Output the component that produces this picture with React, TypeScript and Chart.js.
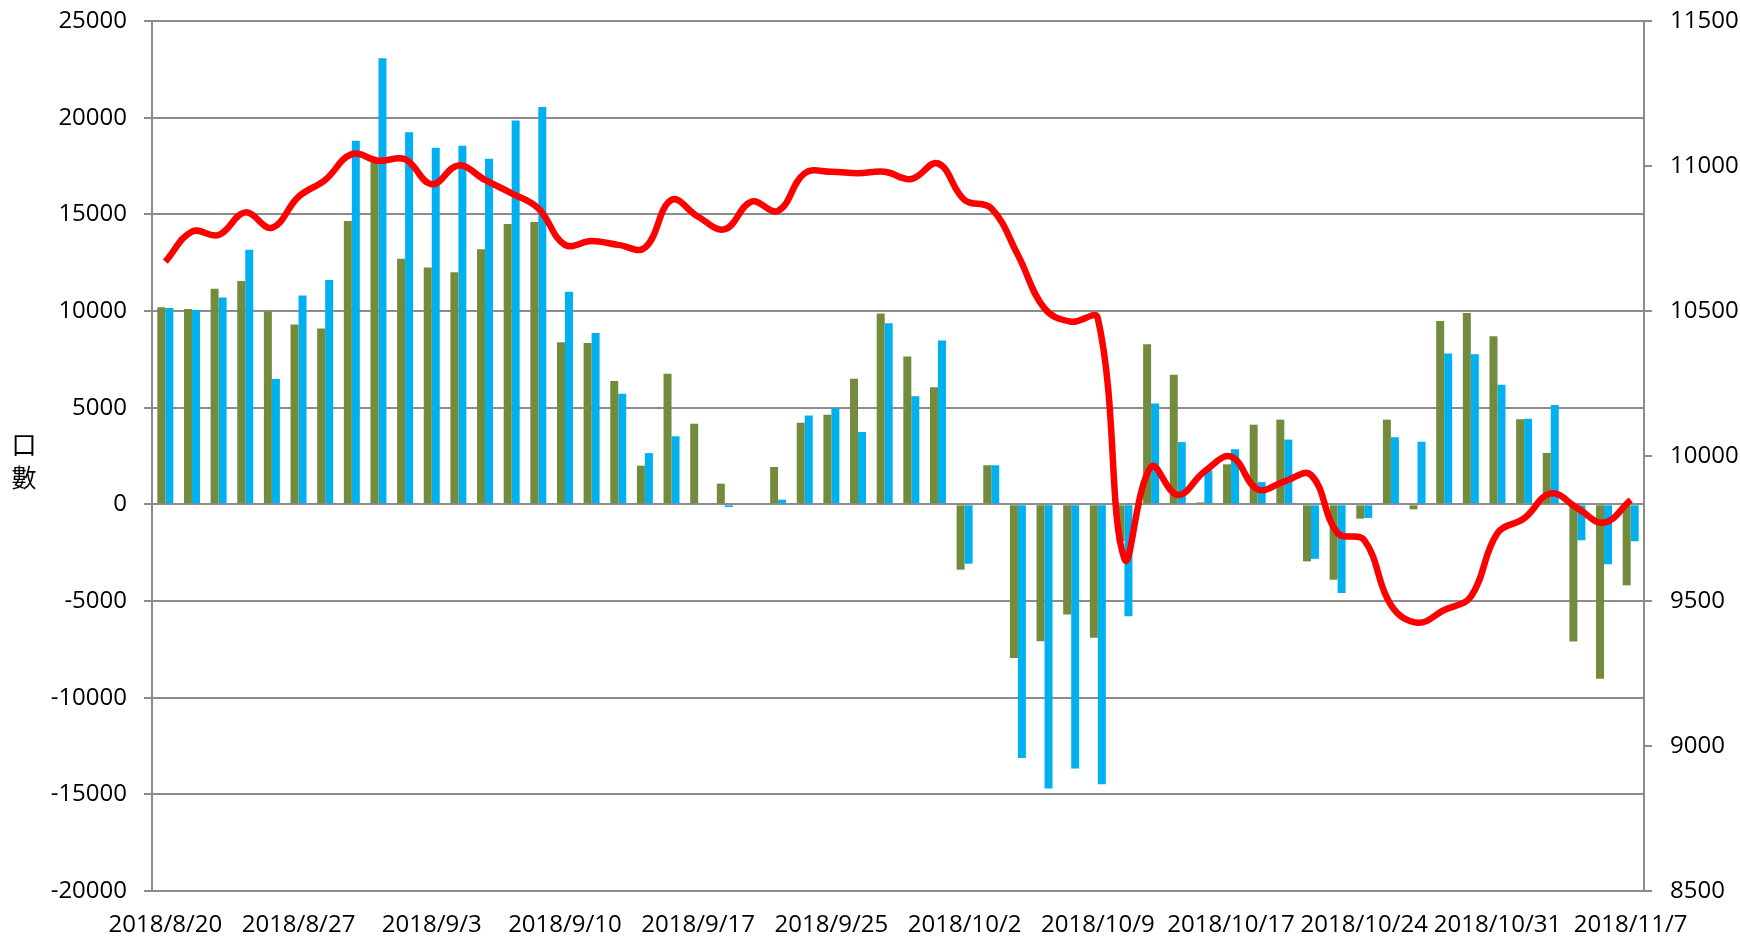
import React, { useEffect, useRef } from 'react';
import { Chart, registerables } from 'chart.js';

Chart.register(...registerables);

// Trading days (x categories)
const dates: string[] = [
  '2018/8/20', '2018/8/21', '2018/8/22', '2018/8/23', '2018/8/24',
  '2018/8/27', '2018/8/28', '2018/8/29', '2018/8/30', '2018/8/31',
  '2018/9/3', '2018/9/4', '2018/9/5', '2018/9/6', '2018/9/7',
  '2018/9/10', '2018/9/11', '2018/9/12', '2018/9/13', '2018/9/14',
  '2018/9/17', '2018/9/18', '2018/9/19', '2018/9/20', '2018/9/21',
  '2018/9/25', '2018/9/26', '2018/9/27', '2018/9/28', '2018/10/1',
  '2018/10/2', '2018/10/3', '2018/10/4', '2018/10/5', '2018/10/8',
  '2018/10/9', '2018/10/11', '2018/10/12', '2018/10/15', '2018/10/16',
  '2018/10/17', '2018/10/18', '2018/10/19', '2018/10/22', '2018/10/23',
  '2018/10/24', '2018/10/25', '2018/10/26', '2018/10/29', '2018/10/30',
  '2018/10/31', '2018/11/1', '2018/11/2', '2018/11/5', '2018/11/6',
  '2018/11/7',
];

// Green bars (口數, left axis)
const greenBars: number[] = [
  10200, 10100, 11150, 11550, 9970,
  9300, 9100, 14650, 17700, 12700,
  12250, 12000, 13200, 14500, 14600,
  8380, 8350, 6380, 2000, 6750,
  4170, 1070, 50, 1930, 4220,
  4640, 6500, 9870, 7650, 6050,
  -3380, 2020, -7950, -7080, -5700,
  -6900, -1900, 8280, 6700, 100,
  2070, 4120, 4380, -2950, -3900,
  -740, 4380, -260, 9480, 9900,
  8690, 4400, 2660, -7090, -9020,
  -4190,
];

// Blue bars (口數, left axis)
const blueBars: number[] = [
  10150, 10050, 10700, 13170, 6480,
  10800, 11600, 18800, 23070, 19250,
  18450, 18550, 17870, 19850, 20550,
  11000, 8860, 5720, 2650, 3520,
  0, -140, 0, 240, 4590,
  4970, 3740, 9360, 5590, 8480,
  -3070, 2020, -13120, -14700, -13670,
  -14480, -5790, 5210, 3220, 1750,
  2850, 1150, 3350, -2820, -4580,
  -700, 3470, 3240, 7800, 7760,
  6190, 4430, 5140, -1860, -3100,
  -1910,
];

// Red line (right axis)
const redLine: number[] = [
  10670, 10774, 10762, 10840, 10787,
  10894, 10952, 11041, 11018, 11023,
  10937, 11002, 10952, 10906, 10854,
  10728, 10741, 10728, 10718, 10883,
  10825, 10782, 10877, 10845, 10975,
  10980, 10975, 10980, 10955, 11009,
  10883, 10854, 10693, 10509, 10463,
  10475, 9645, 9963, 9866, 9946,
  9998, 9885, 9912, 9935, 9734,
  9710, 9486, 9425, 9469, 9515,
  9734, 9785, 9871, 9820, 9770,
  9848,
];

const leftMin = -20000;
const leftMax = 25000;
const leftStep = 5000;
const rightMin = 8500;
const rightMax = 11500;
const rightStep = 500;
const yTitleChars: string[] = ['口', '數'];

const FONT = '"Open Sans", "Liberation Sans", sans-serif';
const GRID = '#8c8c8c';

const titlePlugin = {
  id: 'stackedTitle',
  afterDraw(chart: any) {
    const ctx = chart.ctx;
    ctx.save();
    ctx.fillStyle = '#000';
    ctx.font = '25px "Noto Sans CJK TC", sans-serif';
    ctx.textAlign = 'center';
    ctx.textBaseline = 'middle';
    ctx.fillText(yTitleChars[0], 24, 444);
    ctx.fillText(yTitleChars[1], 24, 477);
    ctx.restore();
  },
};

const noPad = (s: any) => {
  s.paddingTop = 0;
  s.paddingBottom = 0;
  s.paddingLeft = 0;
  s.paddingRight = 0;
};

export default function App() {
  const ref = useRef<HTMLCanvasElement | null>(null);

  useEffect(() => {
    if (!ref.current) return;
    const chart = new Chart(ref.current, {
      type: 'bar',
      data: {
        labels: dates,
        datasets: [
          {
            type: 'line',
            label: '指數',
            data: redLine,
            yAxisID: 'y1',
            borderColor: '#ff0000',
            backgroundColor: '#ff0000',
            borderWidth: 6.5,
            pointRadius: 0,
            tension: 0.4,
            fill: false,
            order: 0,
          } as any,
          {
            type: 'bar',
            label: '系列1',
            data: greenBars,
            yAxisID: 'y',
            backgroundColor: '#738b3c',
            borderWidth: 0,
            categoryPercentage: 0.6,
            barPercentage: 1.0,
            order: 1,
          },
          {
            type: 'bar',
            label: '系列2',
            data: blueBars,
            yAxisID: 'y',
            backgroundColor: '#00b0f0',
            borderWidth: 0,
            categoryPercentage: 0.6,
            barPercentage: 1.0,
            order: 2,
          },
        ],
      },
      options: {
        responsive: false,
        animation: false,
        devicePixelRatio: 1,
        layout: { padding: { left: 0, right: 0, top: 21, bottom: 0 } },
        plugins: {
          legend: { display: false },
          tooltip: { enabled: false },
          title: { display: false },
        },
        scales: {
          x: {
            offset: true,
            grid: { display: false, drawTicks: false },
            border: { display: true, color: GRID, width: 2 },
            ticks: {
              autoSkip: false,
              maxRotation: 0,
              minRotation: 0,
              padding: 20,
              color: '#000',
              font: { family: FONT, size: 24 },
              callback: (_v: any, i: number) => (i % 5 === 0 ? dates[i] : ''),
            },
            afterFit: (s: any) => { s.height = 48; noPad(s); },
          },
          y: {
            position: 'left',
            min: leftMin,
            max: leftMax,
            ticks: {
              stepSize: leftStep,
              padding: 17,
              color: '#000',
              font: { family: FONT, size: 24 },
              callback: (v: any) => String(v),
            },
            grid: { color: GRID, lineWidth: 2, tickLength: 8, drawTicks: true },
            border: { display: true, color: GRID, width: 2 },
            afterFit: (s: any) => { s.width = 152; noPad(s); },
          },
          y1: {
            position: 'right',
            min: rightMin,
            max: rightMax,
            ticks: {
              stepSize: rightStep,
              padding: 18,
              color: '#000',
              font: { family: FONT, size: 24 },
              callback: (v: any) => String(v),
            },
            grid: { drawOnChartArea: false, color: GRID, lineWidth: 2, tickLength: 8, drawTicks: true },
            border: { display: true, color: GRID, width: 2 },
            afterFit: (s: any) => { s.width = 96; noPad(s); },
          },
        },
      },
      plugins: [titlePlugin],
    } as any);
    return () => chart.destroy();
  }, []);

  return (
    <div style={{ position: 'fixed', left: 0, top: 0, width: 1740, height: 939, background: '#fff' }}>
      <canvas ref={ref} width={1740} height={939} style={{ display: 'block' }} />
    </div>
  );
}
